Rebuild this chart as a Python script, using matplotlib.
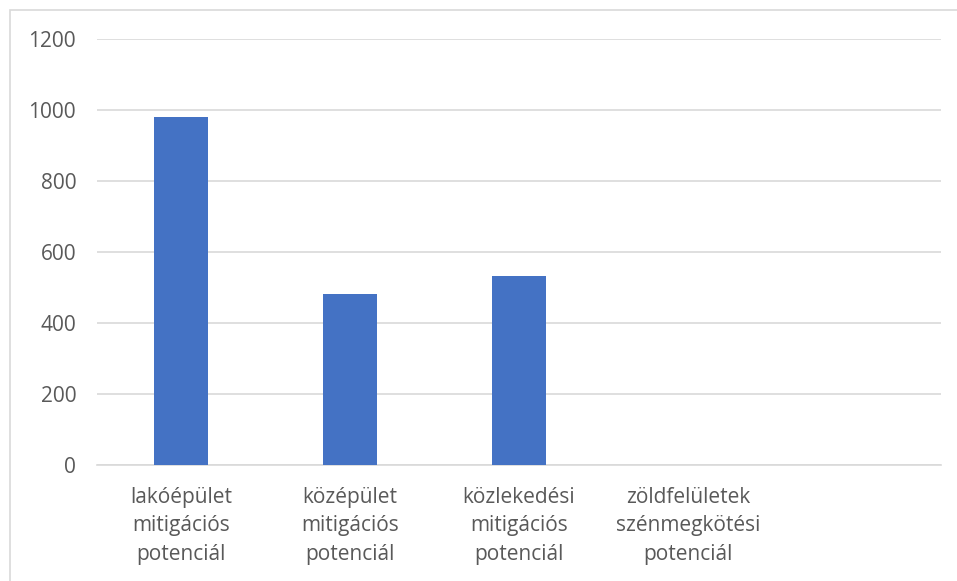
import matplotlib.pyplot as plt
import numpy as np
from matplotlib.patches import Rectangle

categories = [
    "lakóépület\nmitigációs\npotenciál",
    "középület\nmitigációs\npotenciál",
    "közlekedési\nmitigációs\npotenciál",
    "zöldfelületek\nszénmegkötési\npotenciál",
    "",
]
values = [980, 482, 532, 0, 0]
y_ticks = [0, 200, 400, 600, 800, 1000, 1200]

text_color = "#595959"
grid_color = "#d9d9d9"
bar_color = "#4472c4"

plt.rcParams["font.family"] = ["Open Sans", "DejaVu Sans"]

fig = plt.figure(figsize=(9.57, 5.81), dpi=100)
W, H = 957, 581
ax = fig.add_axes([97 / W, 1 - 465 / H, (941 - 97) / W, (465 - 39) / H])

# chart area border (right/bottom run past the image)
fig.patches.append(Rectangle((9.5 / W, -0.1), 1.2, 1.1 - 10 / H,
                             transform=fig.transFigure, fill=False,
                             edgecolor=grid_color, linewidth=1.2))

x = np.arange(len(categories))
ax.bar(x, values, width=0.32, color=bar_color, linewidth=0, zorder=3)

ax.set_xlim(-0.5, len(categories) - 0.5)
ax.set_ylim(0, 1200)
ax.set_yticks(y_ticks)
ax.set_yticklabels([str(v) for v in y_ticks])
ax.set_xticks(x)
ax.set_xticklabels(categories, linespacing=1.45)

ax.grid(axis="y", color=grid_color, linewidth=1.2, zorder=0)
for s in ["top", "right", "left"]:
    ax.spines[s].set_visible(False)
ax.spines["bottom"].set_color(grid_color)
ax.spines["bottom"].set_linewidth(1.2)

ax.tick_params(axis="both", length=0, labelsize=15, labelcolor=text_color)
ax.tick_params(axis="y", pad=15)
ax.tick_params(axis="x", pad=16)

fig.savefig("out.png", dpi=100)
